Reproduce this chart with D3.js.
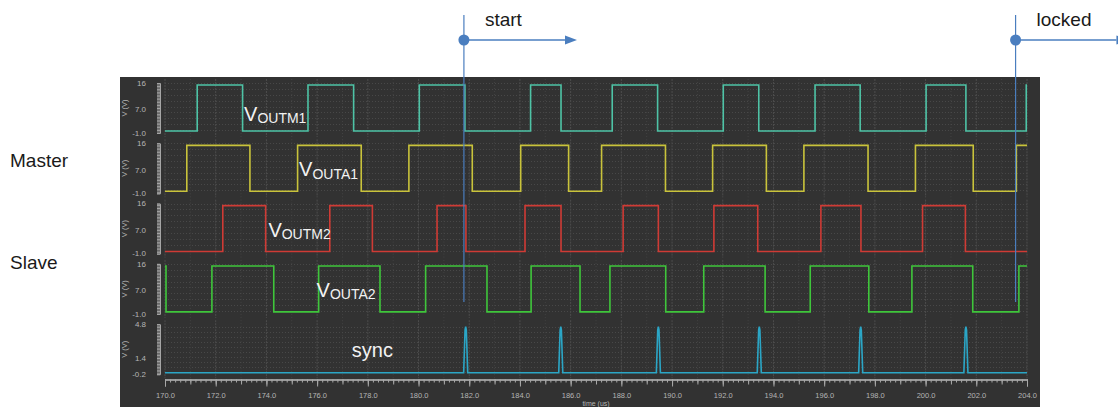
<!DOCTYPE html>
<html>
<head>
<meta charset="utf-8">
<script src="https://cdn.jsdelivr.net/npm/d3@7"></script>
<style>
  body { margin: 0; background: #fff; }
  svg { display: block; }
</style>
</head>
<body>
<div id="graph"></div>
<script>
// time axis (us)
var timeDomain = [170, 204];
var timeTicks = [170, 172, 174, 176, 178, 180, 182, 184, 186, 188, 190, 192, 194, 196, 198, 200, 202, 204];

// square wave levels (V) and edge times (us), each edge toggles the level
var lowLevel = -0.3;
var highLevel = 15.3;
var outm1Start = "low";
var outm1Edges = [171.27, 173.06, 175.64, 177.44, 180.03, 181.83, 184.42, 185.62, 187.64, 189.43,
                  192.02, 193.42, 195.64, 197.42, 200.02, 201.59, 203.97];
var outa1Start = "low";
var outa1Edges = [170.86, 173.35, 175.23, 177.74, 179.62, 182.12, 184.03, 185.92, 187.22, 189.74,
                  191.60, 193.72, 195.20, 197.73, 199.60, 201.88, 203.58];
var outm2Start = "low";
var outm2Edges = [172.28, 173.97, 176.50, 178.18, 180.73, 181.87, 184.20, 185.62, 188.07, 189.46,
                  191.65, 193.38, 195.87, 197.45, 199.88, 201.57];
var outa2Start = "high";
var outa2Edges = [170.04, 171.85, 174.29, 176.06, 178.48, 180.28, 182.70, 184.44, 186.37, 187.55,
                  189.75, 191.25, 193.67, 195.45, 197.76, 199.46, 201.86, 203.68];

// sync pulses
var syncBase = -0.05;
var syncTimes = [181.86, 185.61, 189.46, 193.44, 197.44, 201.59];
var syncPulse = [[-0.08, -0.05], [-0.025, 4.2], [0, 4.55], [0.025, 4.2], [0.08, -0.05]];

// y axis tick labels
var voltDomain = [-1, 16];
var voltTicks = [-1.0, 7.0, 16];
var voltTickLabels = ["-1.0", "7.0", "16"];
var syncDomain = [-0.2, 4.8];
var syncTicks = [-0.2, 1.4, 4.8];
var syncTickLabels = ["-0.2", "1.4", "4.8"];

// labels
var traceNames = ["OUTM1", "OUTA1", "OUTM2", "OUTA2"];
var traceLabelTimes = [173.12, 175.29, 174.08, 175.98];
var syncLabel = "sync";
var syncLabelTime = 177.37;
var groupNames = ["Master", "Slave"];
var markerNames = ["start", "locked"];
var markerTimes = [181.79, 203.55];
var markerArrowEnds = [186.25, 208.0];

// styles
var traceColors = ["#4ec3a6", "#c9c33b", "#cf3b35", "#3fc63b"];
var syncColor = "#2ba6c6";
var blue = "#4a7ebf";
var font = "Liberation Sans, Arial, sans-serif";
var width = 1118;
var height = 407;

var x = d3.scaleLinear().domain(timeDomain).range([165, 1027]);
var panelTop = 83;
var panelPitch = 60.3;
var panelSpan = 50;

var svg = d3.select("#graph").append("svg")
    .attr("width", width)
    .attr("height", height);

// dark scope background
svg.append("rect")
    .attr("x", 120).attr("y", 77)
    .attr("width", 920).attr("height", 330)
    .attr("fill", "#323232");

function stepPoints (start, edges) {
    var level = start == "high" ? highLevel : lowLevel;
    var pts = [[timeDomain[0], level]];
    edges.forEach(function (t) {
        pts.push([t, level]);
        level = level == highLevel ? lowLevel : highLevel;
        pts.push([t, level]);
    });
    pts.push([timeDomain[1], level]);
    return pts;
}

function syncPoints () {
    var pts = [[timeDomain[0], syncBase]];
    syncTimes.forEach(function (t) {
        syncPulse.forEach(function (p) { pts.push([t + p[0], p[1]]); });
    });
    pts.push([timeDomain[1], syncBase]);
    return pts;
}

function drawPanel (i, domain, ticks, tickLabels, points, color) {
    var py = panelTop + i * panelPitch;
    var y = d3.scaleLinear().domain(domain).range([py + panelSpan, py]);
    var g = svg.append("g");

    // vertical grid
    g.selectAll(".vgrid")
        .data(d3.range(timeDomain[0], timeDomain[1] + 0.01, 1))
        .enter().append("line")
        .attr("x1", function (d) { return x(d); })
        .attr("x2", function (d) { return x(d); })
        .attr("y1", py - 4)
        .attr("y2", py + panelSpan + 4)
        .attr("stroke", function (d) { return d % 2 == 0 ? "#4d4d4d" : "#434343"; })
        .attr("stroke-dasharray", function (d) { return d % 2 == 0 ? "2,1" : "1,2"; })
        .attr("stroke-width", 1);

    // horizontal grid
    g.selectAll(".hgrid")
        .data(y.ticks(10))
        .enter().append("line")
        .attr("x1", x(timeDomain[0]))
        .attr("x2", x(timeDomain[1]))
        .attr("y1", function (d) { return Math.round(y(d)) + 0.5; })
        .attr("y2", function (d) { return Math.round(y(d)) + 0.5; })
        .attr("stroke", "#484848")
        .attr("stroke-dasharray", "1,2");

    // ruler
    var step = (domain[1] - domain[0]) / 34;
    var ruler = d3.axisLeft(y)
        .tickValues(d3.range(domain[0], domain[1] + step / 2, step))
        .tickSize(3)
        .tickFormat("");
    g.append("g")
        .attr("transform", "translate(160,0)")
        .call(ruler)
        .call(function (a) {
            a.selectAll("text").remove();
            a.selectAll("line").attr("stroke", "#a5a5a5");
            a.select(".domain").attr("stroke", "#a5a5a5");
        });

    // tick labels
    g.selectAll(".ylab")
        .data(ticks)
        .enter().append("text")
        .attr("x", 146)
        .attr("y", function (d) { return y(d); })
        .attr("dy", "0.35em")
        .attr("text-anchor", "end")
        .attr("font-family", font)
        .attr("font-size", 8)
        .attr("fill", "#b5b5b5")
        .text(function (d, k) { return tickLabels[k]; });

    g.append("text")
        .attr("transform", "translate(127," + (py + panelSpan / 2) + ") rotate(-90)")
        .attr("text-anchor", "middle")
        .attr("font-family", font)
        .attr("font-size", 7.5)
        .attr("fill", "#b5b5b5")
        .text("V (V)");

    var line = d3.line()
        .x(function (d) { return x(d[0]); })
        .y(function (d) { return y(d[1]); });
    g.append("path")
        .datum(points)
        .attr("fill", "none")
        .attr("stroke", color)
        .attr("stroke-width", 1.6)
        .attr("d", line);
    return py;
}

var allEdges = [outm1Edges, outa1Edges, outm2Edges, outa2Edges];
var allStarts = [outm1Start, outa1Start, outm2Start, outa2Start];
var labelOffsets = [37.5, 33, 33, 33];

for (var i = 0; i < 4; i++) {
    var panelY = drawPanel(i, voltDomain, voltTicks, voltTickLabels,
        stepPoints(allStarts[i], allEdges[i]), traceColors[i]);
    var lx = x(traceLabelTimes[i]);
    var ly = panelY + labelOffsets[i];
    // V with subscript, drawn as two texts
    svg.append("text")
        .attr("x", lx)
        .attr("y", ly)
        .attr("font-family", font)
        .attr("font-size", 20)
        .attr("fill", "#f2f2f2")
        .text("V");
    svg.append("text")
        .attr("x", lx + 13.3)
        .attr("y", ly + 2.5)
        .attr("font-family", font)
        .attr("font-size", 14)
        .attr("fill", "#f2f2f2")
        .text(traceNames[i]);
}

var syncY = drawPanel(4, syncDomain, syncTicks, syncTickLabels, syncPoints(), syncColor);
svg.append("text")
    .attr("x", x(syncLabelTime))
    .attr("y", syncY + 32.5)
    .attr("font-family", font)
    .attr("font-size", 20)
    .attr("fill", "#f2f2f2")
    .text(syncLabel);

// time axis
var axisY = 379.5;
function timeAxis (values, size) {
    return d3.axisBottom(x).tickValues(values).tickSize(size).tickFormat("");
}
var axisG = svg.append("g").attr("transform", "translate(0," + axisY + ")");
axisG.append("g").call(timeAxis(d3.range(170, 204.01, 0.2), 3))
    .selectAll("text").remove();
axisG.append("g").call(timeAxis(d3.range(170, 204.01, 1), 5))
    .selectAll("text").remove();
axisG.append("g").call(d3.axisBottom(x)
        .tickValues(timeTicks)
        .tickSize(7)
        .tickPadding(6)
        .tickFormat(d3.format(".1f")))
    .selectAll("text")
    .attr("font-family", font)
    .attr("font-size", 7.5)
    .attr("fill", "#b5b5b5");
axisG.selectAll("line").attr("stroke", "#a8a8a8");
axisG.selectAll(".domain").attr("stroke", "#a8a8a8");

svg.append("text")
    .attr("x", (x(timeDomain[0]) + x(timeDomain[1])) / 2)
    .attr("y", 406)
    .attr("text-anchor", "middle")
    .attr("font-family", font)
    .attr("font-size", 7)
    .attr("fill", "#b5b5b5")
    .text("time (us)");

// group labels
svg.selectAll(".group")
    .data(groupNames)
    .enter().append("text")
    .attr("x", 10)
    .attr("y", function (d, k) { return k == 0 ? 167 : 269; })
    .attr("font-family", font)
    .attr("font-size", 19)
    .attr("fill", "#1a1a1a")
    .text(function (d) { return d; });

// start / locked markers
markerNames.forEach(function (name, k) {
    var mx = x(markerTimes[k]);
    var ex = x(markerArrowEnds[k]);
    svg.append("line")
        .attr("x1", mx).attr("x2", mx)
        .attr("y1", 15).attr("y2", 302)
        .attr("stroke", blue)
        .attr("stroke-width", 1.2);
    svg.append("line")
        .attr("x1", mx).attr("x2", ex - 12)
        .attr("y1", 40).attr("y2", 40)
        .attr("stroke", blue)
        .attr("stroke-width", 1.6);
    svg.append("path")
        .attr("d", "M" + (ex - 12) + ",35.5L" + ex + ",40L" + (ex - 12) + ",44.5Z")
        .attr("fill", blue);
    svg.append("circle")
        .attr("cx", mx).attr("cy", 40)
        .attr("r", 5.5)
        .attr("fill", blue);
    svg.append("text")
        .attr("x", mx + 21)
        .attr("y", 26)
        .attr("font-family", font)
        .attr("font-size", 19)
        .attr("fill", "#1a1a1a")
        .text(name);
});
</script>
</body>
</html>
